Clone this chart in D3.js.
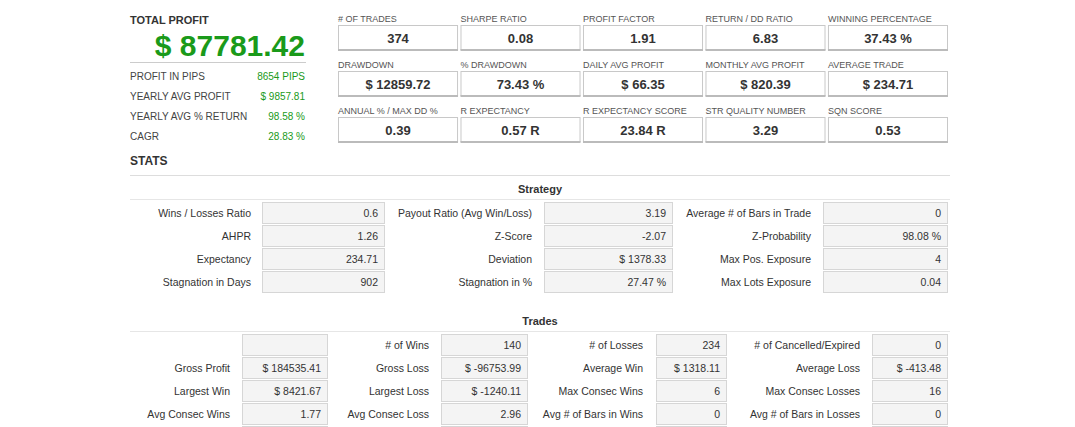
<!DOCTYPE html>
<html><head><meta charset="utf-8">
<script src="https://cdn.jsdelivr.net/npm/d3@7"></script>
<style>body{margin:0;background:#fff}svg{font-family:Arial,"Liberation Sans",sans-serif}</style>
</head><body><svg id="c" width="1075" height="427"></svg>
<script>
// top summary
const totalProfit = "$ 87781.42";
const summaryLabels = ["PROFIT IN PIPS", "YEARLY AVG PROFIT", "YEARLY AVG % RETURN", "CAGR"];
const summaryValues = ["8654 PIPS", "$ 9857.81", "98.58 %", "28.83 %"];
// metric cards (3 rows x 5)
const cardLabels = ["# OF TRADES", "SHARPE RATIO", "PROFIT FACTOR", "RETURN / DD RATIO", "WINNING PERCENTAGE",
  "DRAWDOWN", "% DRAWDOWN", "DAILY AVG PROFIT", "MONTHLY AVG PROFIT", "AVERAGE TRADE",
  "ANNUAL % / MAX DD %", "R EXPECTANCY", "R EXPECTANCY SCORE", "STR QUALITY NUMBER", "SQN SCORE"];
const cardValues = ["374", "0.08", "1.91", "6.83", "37.43 %",
  "$ 12859.72", "73.43 %", "$ 66.35", "$ 820.39", "$ 234.71",
  "0.39", "0.57 R", "23.84 R", "3.29", "0.53"];
// strategy table
const strategyLabels = [
  ["Wins / Losses Ratio", "Payout Ratio (Avg Win/Loss)", "Average # of Bars in Trade"],
  ["AHPR", "Z-Score", "Z-Probability"],
  ["Expectancy", "Deviation", "Max Pos. Exposure"],
  ["Stagnation in Days", "Stagnation in %", "Max Lots Exposure"]];
const strategyValues = [
  ["0.6", "3.19", "0"], ["1.26", "-2.07", "98.08 %"],
  ["234.71", "$ 1378.33", "4"], ["902", "27.47 %", "0.04"]];
// trades table
const tradeLabels = [
  ["", "# of Wins", "# of Losses", "# of Cancelled/Expired"],
  ["Gross Profit", "Gross Loss", "Average Win", "Average Loss"],
  ["Largest Win", "Largest Loss", "Max Consec Wins", "Max Consec Losses"],
  ["Avg Consec Wins", "Avg Consec Loss", "Avg # of Bars in Wins", "Avg # of Bars in Losses"],
  ["", "", "", ""]];
const tradeValues = [
  ["", "140", "234", "0"],
  ["$ 184535.41", "$ -96753.99", "$ 1318.11", "$ -413.48"],
  ["$ 8421.67", "$ -1240.11", "6", "16"],
  ["1.77", "2.96", "0", "0"],
  ["", "", "", ""]];

const svg = d3.select("#c");
const green = "#1a9a1a";

// left summary
svg.append("text").attr("x", 130).attr("y", 24).attr("font-size", 11).attr("font-weight", "bold").attr("fill", "#333").text("TOTAL PROFIT");
svg.append("text").attr("x", 305).attr("y", 56).attr("text-anchor", "end").attr("font-size", 30).attr("font-weight", "bold").attr("fill", green).text(totalProfit);
svg.append("line").attr("x1", 130).attr("x2", 306).attr("y1", 62.5).attr("y2", 62.5).attr("stroke", "#ccc");
const sy = d3.scalePoint().domain(d3.range(summaryLabels.length)).range([76, 136]);
summaryLabels.forEach((l, i) => {
  svg.append("text").attr("x", 130).attr("y", sy(i)).attr("dy", "0.35em").attr("font-size", 10).attr("fill", "#444").text(l);
  svg.append("text").attr("x", 305).attr("y", sy(i)).attr("dy", "0.35em").attr("text-anchor", "end").attr("font-size", 10).attr("fill", green).text(summaryValues[i]);
});

// cards
const cx = d3.scaleBand().domain(d3.range(5)).range([338, 948]).paddingInner(0.02);
const cy = d3.scalePoint().domain(d3.range(3)).range([19, 111]);
cardLabels.forEach((l, i) => {
  const c = i % 5, r = Math.floor(i / 5);
  const x = cx(c), y = cy(r), w = cx.bandwidth();
  svg.append("text").attr("x", x).attr("y", y).attr("dy", "0.35em").attr("font-size", 9).attr("fill", "#555").text(l);
  svg.append("rect").attr("x", x + 0.5).attr("y", y + 6.5).attr("width", w - 1).attr("height", 24).attr("fill", "#fff").attr("stroke", "#c8c8c8");
  svg.append("line").attr("x1", x).attr("x2", x + w).attr("y1", y + 31).attr("y2", y + 31).attr("stroke", "#bbb").attr("stroke-width", 2);
  svg.append("text").attr("x", x + w / 2).attr("y", y + 19).attr("dy", "0.35em").attr("text-anchor", "middle").attr("font-size", 13).attr("font-weight", "bold").attr("fill", "#333").text(cardValues[i]);
});

// stats header
svg.append("text").attr("x", 130).attr("y", 165).attr("font-size", 12).attr("font-weight", "bold").attr("fill", "#333").text("STATS");
svg.append("line").attr("x1", 130).attr("x2", 950).attr("y1", 175.5).attr("y2", 175.5).attr("stroke", "#ddd");

function table(title, titleY, labels, values, labelRight, boxX, boxW, rowY) {
  svg.append("text").attr("x", 540).attr("y", titleY).attr("dy", "0.35em").attr("text-anchor", "middle").attr("font-size", 11).attr("font-weight", "bold").attr("fill", "#333").text(title);
  svg.append("line").attr("x1", 130).attr("x2", 950).attr("y1", titleY + 10.5).attr("y2", titleY + 10.5).attr("stroke", "#e6e6e6");
  const y = d3.scalePoint().domain(d3.range(labels.length)).range(rowY);
  labels.forEach((row, r) => row.forEach((l, c) => {
    svg.append("text").attr("x", labelRight[c]).attr("y", y(r)).attr("dy", "0.35em").attr("text-anchor", "end").attr("font-size", 10.5).attr("fill", "#333").text(l);
    if (labels === tradeLabels && r === 0 && c === 0) {} 
    svg.append("rect").attr("x", boxX[c] + 0.5).attr("y", y(r) - 10.5).attr("width", boxW[c]).attr("height", 21).attr("fill", "#f4f4f4").attr("stroke", "#d6d6d6");
    svg.append("text").attr("x", boxX[c] + boxW[c] - 6).attr("y", y(r)).attr("dy", "0.35em").attr("text-anchor", "end").attr("font-size", 10.5).attr("fill", "#333").text(values[r][c]);
  }));
}
table("Strategy", 189, strategyLabels, strategyValues, [251, 532, 811], [262, 544, 823], [122, 128, 124], [213, 282]);
table("Trades", 321, tradeLabels, tradeValues, [230, 429, 643, 860], [242, 441, 656, 872], [85, 86, 70, 75], [345, 437]);
</script></body></html>
